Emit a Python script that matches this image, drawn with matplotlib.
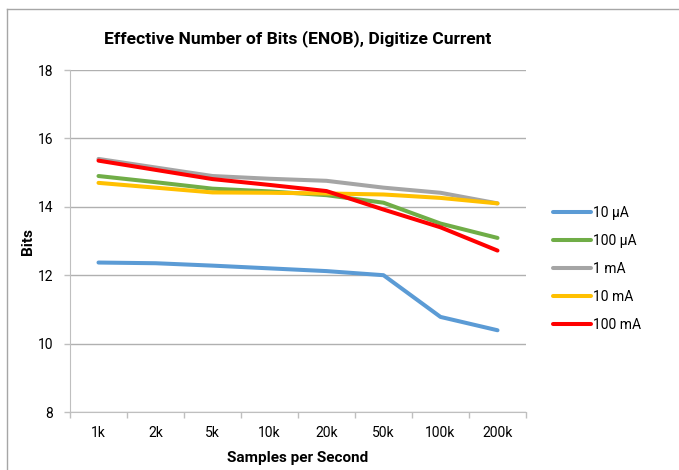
import matplotlib
matplotlib.use('Agg')
import matplotlib.pyplot as plt
from matplotlib.lines import Line2D
import numpy as np

# Data
rates = ['1k', '2k', '5k', '10k', '20k', '50k', '100k', '200k']
enob_10ua = [12.37, 12.35, 12.28, 12.20, 12.12, 12.00, 10.78, 10.39]
enob_100ua = [14.90, 14.72, 14.53, 14.45, 14.34, 14.12, 13.51, 13.09]
enob_1ma = [15.40, 15.15, 14.90, 14.82, 14.76, 14.56, 14.41, 14.10]
enob_10ma = [14.70, 14.56, 14.42, 14.41, 14.39, 14.36, 14.26, 14.10]
enob_100ma = [15.35, 15.08, 14.81, 14.64, 14.46, 13.92, 13.40, 12.72]

series = [
    ('10 µA', enob_10ua, '#5b9bd5'),
    ('100 µA', enob_100ua, '#70ad47'),
    ('1 mA', enob_1ma, '#a5a5a5'),
    ('10 mA', enob_10ma, '#ffc000'),
    ('100 mA', enob_100ma, '#ff0000'),
]

plt.rcParams['font.family'] = ['Roboto', 'DejaVu Sans']

fig = plt.figure(figsize=(6.79, 4.70), dpi=100)
ax = fig.add_axes([70 / 679, 1 - 412 / 470, 456 / 679, 342 / 470])

x = np.arange(len(rates))
for name, vals, col in series:
    ax.plot(x, vals, color=col, lw=2.9, label=name, solid_capstyle='round',
            solid_joinstyle='round')

ax.set_xlim(-0.5, len(rates) - 0.5)
ax.set_ylim(8, 18)
ax.set_yticks([8, 10, 12, 14, 16, 18])
ax.set_xticks(x)
ax.set_xticklabels(rates)
ax.set_xticks(np.arange(-0.5, len(rates), 1), minor=True)
ax.tick_params(axis='x', which='major', length=0, pad=10, labelsize=10)
ax.tick_params(axis='x', which='minor', length=4, color='#bfbfbf', width=1)
ax.tick_params(axis='y', length=4, color='#bfbfbf', width=1, pad=8, labelsize=10)

ax.grid(axis='y', color='#b0b0b0', lw=1)
ax.set_axisbelow(True)
for s in ['top', 'right']:
    ax.spines[s].set_visible(False)
ax.spines['left'].set_color('#bfbfbf')
ax.spines['bottom'].set_color('#bfbfbf')

ax.set_title('Effective Number of Bits (ENOB), Digitize Current',
             fontsize=12.6, fontweight='bold', pad=19)
ax.set_xlabel('Samples per Second', fontsize=11, fontweight='bold', labelpad=8)
ax.set_ylabel('Bits', fontsize=11, fontweight='bold', labelpad=2)

ax.legend(loc='center left', bbox_to_anchor=(540 / 679, 1 - 269 / 470),
          bbox_transform=fig.transFigure, frameon=False, fontsize=10,
          handlelength=2.8, labelspacing=1.0, handletextpad=0.15)

# outer chart frame (left and top edges visible)
fig.add_artist(Line2D([7 / 679, 7 / 679], [0, 1 - 9 / 470], color='#a6a6a6', lw=1))
fig.add_artist(Line2D([7 / 679, 1], [1 - 9 / 470, 1 - 9 / 470], color='#a6a6a6', lw=1))

fig.savefig('out.png', dpi=100)
